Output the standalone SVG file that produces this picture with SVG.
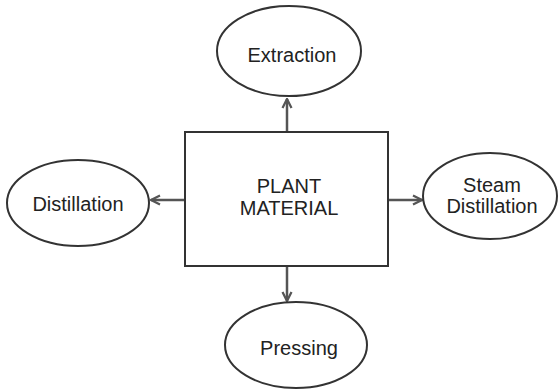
<svg xmlns="http://www.w3.org/2000/svg" width="560" height="390" viewBox="0 0 560 390">
<style>
.n{fill:#fff;stroke:#333;stroke-width:2}
.t{font-family:"Liberation Sans",Arial,sans-serif;font-size:20px;fill:#222;text-anchor:middle}
.c{stroke:#555;stroke-width:2.5;fill:none}
</style>
<defs>
<marker id="a" viewBox="0 0 10 10" refX="9" refY="5" markerWidth="4.5" markerHeight="4.5" orient="auto" markerUnits="strokeWidth">
<path d="M1,1 L9,5 L1,9" fill="none" stroke="#555" stroke-width="2"/>
</marker>
</defs>
<g id="connectors">
<line class="c" x1="287" y1="132" x2="287" y2="99" marker-end="url(#a)"/>
<line class="c" x1="185" y1="200" x2="151" y2="200" marker-end="url(#a)"/>
<line class="c" x1="388" y1="200" x2="422" y2="200" marker-end="url(#a)"/>
<line class="c" x1="287" y1="266" x2="287" y2="301" marker-end="url(#a)"/>
</g>
<g id="plant">
<rect class="n" x="185" y="132" width="203" height="134"/>
<text class="t" x="289" y="193">PLANT</text>
<text class="t" x="289" y="215">MATERIAL</text>
</g>
<g id="extraction">
<ellipse class="n" cx="289" cy="51" rx="72" ry="45"/>
<text class="t" x="292" y="62">Extraction</text>
</g>
<g id="distillation">
<ellipse class="n" cx="78" cy="203" rx="71" ry="43"/>
<text class="t" x="78" y="211">Distillation</text>
</g>
<g id="steam">
<ellipse class="n" cx="490" cy="196" rx="67" ry="43"/>
<text class="t" x="492" y="192">Steam</text>
<text class="t" x="492" y="213">Distillation</text>
</g>
<g id="pressing">
<ellipse class="n" cx="296" cy="345" rx="71" ry="43"/>
<text class="t" x="299" y="355">Pressing</text>
</g>
</svg>
